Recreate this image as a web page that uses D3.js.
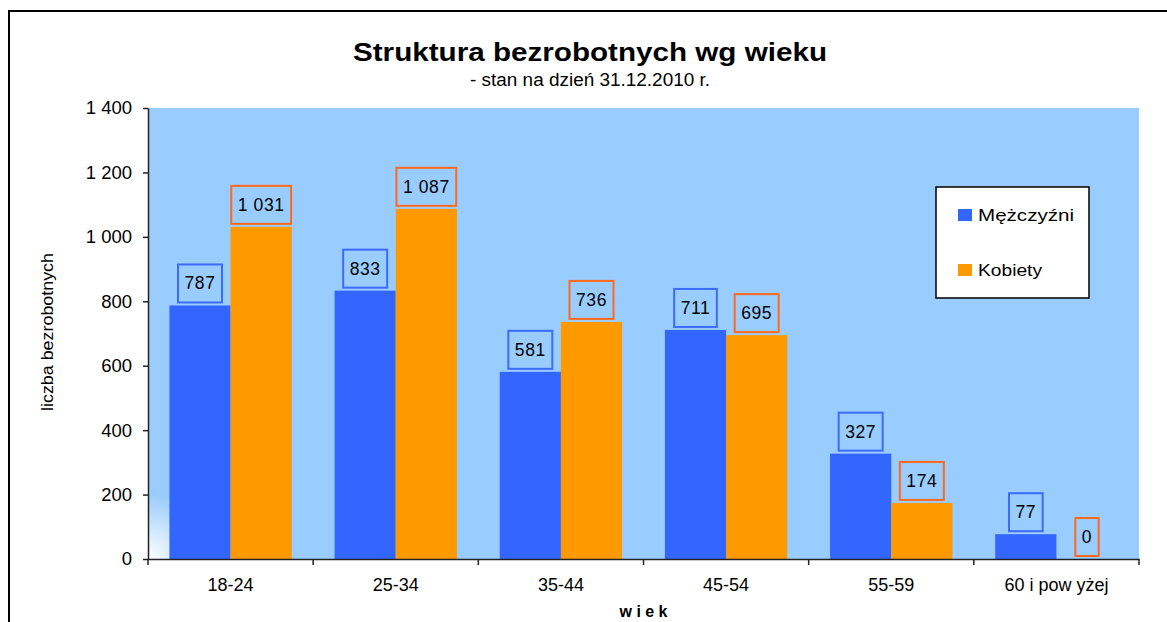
<!DOCTYPE html>
<html>
<head>
<meta charset="utf-8">
<script src="https://cdn.jsdelivr.net/npm/d3@7"></script>
<style>
  html, body { margin: 0; padding: 0; background: #fff; }
  svg { display: block; font-family: "Liberation Sans", Arial, sans-serif; }
</style>
</head>
<body>
<svg id="chart" width="1167" height="622"></svg>
<script>
const categories = ["18-24", "25-34", "35-44", "45-54", "55-59", "60 i pow yżej"];
const seriesNames = ["Mężczyźni", "Kobiety"];
const menValues = [787, 833, 581, 711, 327, 77];
const womenValues = [1031, 1087, 736, 695, 174, 0];
const yTicks = [0, 200, 400, 600, 800, 1000, 1200, 1400];
const titleText = "Struktura bezrobotnych wg wieku";
const subtitleText = "- stan na dzień 31.12.2010 r.";
const yAxisTitle = "liczba bezrobotnych";
const xAxisTitle = "wiek";

const fill = { "Mężczyźni": "#3366FF", "Kobiety": "#FF9900" };
const labelStroke = { "Mężczyźni": "#3D6BFF", "Kobiety": "#FF6A1A" };

const svg = d3.select("#chart");
const plot = { left: 148, right: 1139, top: 108, bottom: 559 };

const fmt = v => d3.format(",")(v).replace(/,/g, " ");

const x = d3.scaleBand().domain(categories).range([plot.left, plot.right]).paddingInner(0).paddingOuter(0);
const xs = d3.scaleBand().domain(seriesNames).range([0, x.bandwidth()]).paddingInner(0).paddingOuter(0.35);
const y = d3.scaleLinear().domain([0, 1400]).range([plot.bottom, plot.top]);

// outer border
svg.append("path").attr("d", "M9,640 L9,11 L1200,11")
  .attr("fill", "none").attr("stroke", "#000").attr("stroke-width", 2);

// plot background
const defs = svg.append("defs");
const rg = defs.append("radialGradient").attr("id", "corner")
  .attr("gradientUnits", "userSpaceOnUse")
  .attr("cx", plot.left).attr("cy", plot.bottom).attr("r", 65);
rg.append("stop").attr("offset", "0").attr("stop-color", "#FFFFFF");
rg.append("stop").attr("offset", "1").attr("stop-color", "#99CCFF");

svg.append("rect").attr("x", plot.left).attr("y", plot.top)
  .attr("width", plot.right - plot.left).attr("height", plot.bottom - plot.top)
  .attr("fill", "#99CCFF");
svg.append("rect").attr("x", plot.left).attr("y", plot.bottom - 65)
  .attr("width", 65).attr("height", 65).attr("fill", "url(#corner)");

// bars
const rows = categories.map((c, i) => ({ cat: c, vals: [
  { s: seriesNames[0], v: menValues[i] },
  { s: seriesNames[1], v: womenValues[i] }
]}));

const g = svg.append("g").selectAll("g").data(rows).join("g")
  .attr("transform", d => `translate(${x(d.cat)},0)`);

g.selectAll("rect.bar").data(d => d.vals).join("rect").attr("class", "bar")
  .attr("x", d => xs(d.s)).attr("width", xs.bandwidth())
  .attr("y", d => y(d.v)).attr("height", d => y(0) - y(d.v))
  .attr("fill", d => fill[d.s]);

// data labels
const lab = g.selectAll("g.lab").data(d => d.vals).join("g").attr("class", "lab");
lab.each(function(d) {
  const sel = d3.select(this);
  const cx = xs(d.s) + xs.bandwidth() / 2;
  const bottom = y(d.v) - 3;
  const t = sel.append("text").attr("x", cx).attr("y", bottom - 13)
    .attr("text-anchor", "middle").attr("font-size", 17.5)
    .attr("letter-spacing", 0.6).attr("fill", "#000").text(fmt(d.v));
  const w = t.node().getComputedTextLength();
  sel.insert("rect", "text").attr("x", cx - w / 2 - 6.5).attr("y", bottom - 38)
    .attr("width", w + 13).attr("height", 38)
    .attr("fill", "none").attr("stroke", labelStroke[d.s]).attr("stroke-width", 2);
});

// y axis
const yAxis = svg.append("g").attr("transform", `translate(${plot.left},0)`)
  .call(d3.axisLeft(y).tickValues(yTicks).tickFormat(fmt).tickSize(5).tickPadding(11).tickSizeOuter(0));
yAxis.select(".domain").attr("stroke", "#222").attr("stroke-width", 1.5);
yAxis.selectAll(".tick line").attr("stroke", "#222").attr("stroke-width", 1.5);
yAxis.selectAll(".tick text").attr("font-size", 18.5).attr("fill", "#000")
  .attr("font-family", "Liberation Sans, Arial, sans-serif");

// x axis
const xAxis = svg.append("g").attr("transform", `translate(0,${plot.bottom})`)
  .call(d3.axisBottom(x).tickSize(0).tickPadding(19));
xAxis.select(".domain").attr("stroke", "#222").attr("stroke-width", 1.5);
xAxis.selectAll(".tick text").attr("font-size", 18).attr("fill", "#000")
  .attr("font-family", "Liberation Sans, Arial, sans-serif");
const boundaries = categories.map(c => x(c)).concat([plot.right]);
xAxis.selectAll("line.bnd").data(boundaries).join("line").attr("class", "bnd")
  .attr("x1", d => d).attr("x2", d => d).attr("y1", 0).attr("y2", 6)
  .attr("stroke", "#222").attr("stroke-width", 1.5);

// titles
const cxTitle = 590;
svg.append("text").attr("x", cxTitle).attr("y", 61).attr("text-anchor", "middle")
  .attr("font-size", 25).attr("font-weight", "bold")
  .attr("textLength", 474).attr("lengthAdjust", "spacingAndGlyphs").text(titleText);
svg.append("text").attr("x", cxTitle).attr("y", 86).attr("text-anchor", "middle")
  .attr("font-size", 17.5)
  .attr("textLength", 240).attr("lengthAdjust", "spacingAndGlyphs").text(subtitleText);

svg.append("text").attr("transform", "translate(53,332) rotate(-90)")
  .attr("text-anchor", "middle").attr("font-size", 16)
  .attr("textLength", 158).attr("lengthAdjust", "spacingAndGlyphs").text(yAxisTitle);

svg.append("text").attr("x", (plot.left + plot.right) / 2).attr("y", 617)
  .attr("text-anchor", "middle").attr("font-size", 16).attr("font-weight", "bold")
  .attr("textLength", 48).attr("lengthAdjust", "spacing").text(xAxisTitle);

// legend
const leg = svg.append("g");
leg.append("rect").attr("x", 936).attr("y", 187).attr("width", 153).attr("height", 111)
  .attr("fill", "#fff").attr("stroke", "#000").attr("stroke-width", 1.5);
const legItems = leg.selectAll("g.item").data(seriesNames).join("g").attr("class", "item")
  .attr("transform", (d, i) => `translate(958,${209 + i * 55})`);
legItems.append("rect").attr("width", 14).attr("height", 12).attr("fill", d => fill[d]);
legItems.append("text").attr("x", 20).attr("y", 12).attr("font-size", 17)
  .attr("textLength", (d, i) => i === 0 ? 96 : 64).attr("lengthAdjust", "spacingAndGlyphs")
  .text(d => d);
</script>
</body>
</html>
